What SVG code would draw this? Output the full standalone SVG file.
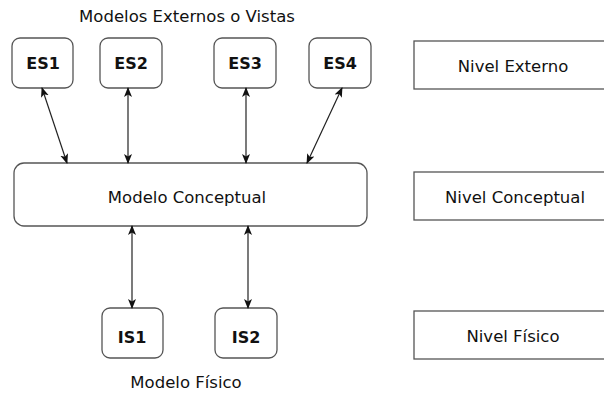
<svg xmlns="http://www.w3.org/2000/svg" width="604" height="395" viewBox="0 0 604 395">
<style>
.box{fill:#fff;stroke:#555;stroke-width:1.3}
.t{font-family:"DejaVu Sans",sans-serif;font-size:16.5px;fill:#111;text-anchor:middle}
.b{font-family:"DejaVu Sans",sans-serif;font-size:16px;font-weight:bold;fill:#111;text-anchor:middle}
.c{stroke:#222;stroke-width:1.2;fill:none;marker-start:url(#ah);marker-end:url(#ah)}
</style>
<defs>
<marker id="ah" viewBox="0 0 10 10" refX="9" refY="5" markerWidth="10" markerHeight="10" markerUnits="userSpaceOnUse" orient="auto-start-reverse">
<path d="M0,1 L10,5 L0,9 L2.5,5 Z" fill="#111"/>
</marker>
</defs>
<rect width="604" height="395" fill="#fff"/>
<text class="t" x="187" y="22">Modelos Externos o Vistas</text>
<g id="es1"><rect class="box" x="12" y="38" width="61" height="50" rx="8"/><text class="b" x="43" y="69">ES1</text></g>
<g id="es2"><rect class="box" x="100" y="38" width="62" height="50" rx="8"/><text class="b" x="131" y="69">ES2</text></g>
<g id="es3"><rect class="box" x="214" y="38" width="62" height="50" rx="8"/><text class="b" x="245" y="69">ES3</text></g>
<g id="es4"><rect class="box" x="309" y="38" width="62" height="50" rx="8"/><text class="b" x="340" y="69">ES4</text></g>
<g id="conceptual"><rect class="box" x="14" y="163" width="353" height="63" rx="10"/><text class="t" x="187" y="203">Modelo Conceptual</text></g>
<g id="is1"><rect class="box" x="102" y="308" width="61" height="50" rx="8"/><text class="b" x="132" y="343">IS1</text></g>
<g id="is2"><rect class="box" x="215" y="308" width="62" height="50" rx="8"/><text class="b" x="246" y="343">IS2</text></g>
<text class="t" x="186" y="388">Modelo Físico</text>
<g id="nivel-externo"><rect class="box" x="414" y="41" width="200" height="48"/><text class="t" x="513" y="72">Nivel Externo</text></g>
<g id="nivel-conceptual"><rect class="box" x="414" y="172" width="200" height="48"/><text class="t" x="515" y="203">Nivel Conceptual</text></g>
<g id="nivel-fisico"><rect class="box" x="414" y="311" width="200" height="48"/><text class="t" x="513" y="342">Nivel Físico</text></g>
<g id="connectors">
<line class="c" x1="42" y1="88" x2="67" y2="163"/>
<line class="c" x1="128" y1="88" x2="128" y2="163"/>
<line class="c" x1="246" y1="88" x2="246" y2="163"/>
<line class="c" x1="342" y1="88" x2="307" y2="163"/>
<line class="c" x1="132" y1="226" x2="132" y2="308"/>
<line class="c" x1="248" y1="226" x2="248" y2="308"/>
</g>
</svg>
